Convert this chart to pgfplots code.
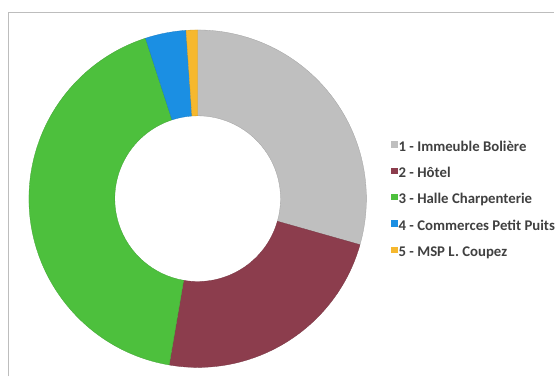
\documentclass[border=0pt]{standalone}
\usepackage{fontspec}
\setmainfont{Carlito}
\usepackage{pgfplots}
\usepackage{pgfplotstable}
\pgfplotsset{compat=1.18}
\definecolor{cGray}{HTML}{BFBFBF}
\definecolor{cMaroon}{HTML}{8C3D4D}
\definecolor{cGreen}{HTML}{4DC03D}
\definecolor{cBlue}{HTML}{1B8FE3}
\definecolor{cYellow}{HTML}{F6B82E}
\definecolor{cFrame}{HTML}{BDBDBD}
\pgfplotstableread{
id value
1 29.4
2 23.3
3 42.3
4 3.9
5 1.1
}\shares
\begin{document}
\begin{tikzpicture}
\pgfplotstablegetelem{0}{value}\of\shares \let\vA\pgfplotsretval
\pgfplotstablegetelem{1}{value}\of\shares \let\vB\pgfplotsretval
\pgfplotstablegetelem{2}{value}\of\shares \let\vC\pgfplotsretval
\pgfplotstablegetelem{3}{value}\of\shares \let\vD\pgfplotsretval
\pgfplotstablegetelem{4}{value}\of\shares \let\vE\pgfplotsretval
\pgfmathsetmacro{\tot}{\vA+\vB+\vC+\vD+\vE}
\pgfmathsetmacro{\aO}{90}
\pgfmathsetmacro{\aA}{\aO-360*\vA/\tot}
\pgfmathsetmacro{\aB}{\aA-360*\vB/\tot}
\pgfmathsetmacro{\aC}{\aB-360*\vC/\tot}
\pgfmathsetmacro{\aD}{\aC-360*\vD/\tot}
\pgfmathsetmacro{\aE}{\aD-360*\vE/\tot}
\def\slice#1#2#3{%
  \fill[#3, draw=#3!85!black, line width=0.3pt] (axis cs:198,178) ++(#1:169pt)
    arc[start angle=#1, end angle=#2, radius=169pt]
    -- ++(#2:-86pt)
    arc[start angle=#2, end angle=#1, radius=83pt] -- cycle;}
\begin{axis}[
  x=1pt, y=1pt,
  xmin=0, xmax=555, ymin=0, ymax=377,
  hide axis, clip=false,
  legend cell align=left,
  legend style={at={(axis cs:392,236.5)}, anchor=north west, draw=none, fill=none,
    inner sep=0pt, outer sep=0pt,
    font=\fontsize{14.8}{17}\selectfont\bfseries\color{black!75},
    nodes={inner sep=0pt, outer sep=0pt, text height=11pt, text depth=3pt},
    row sep=12.4pt, column sep=0.8pt},
  legend image code/.code={\fill[#1, draw=none] (0pt,-0.5pt) rectangle (6.5pt,6pt);},
]
\path (axis cs:0,0) rectangle (axis cs:555,377);
\draw[cFrame, line width=0.8pt] (axis cs:8,0) -- (axis cs:8,365) -- (axis cs:555,365);
\slice{\aO}{\aA}{cGray}
\slice{\aA}{\aB}{cMaroon}
\slice{\aB}{\aC}{cGreen}
\slice{\aC}{\aD}{cBlue}
\slice{\aD}{\aE}{cYellow}
\addlegendimage{fill=cGray}
\addlegendentry{1 - Immeuble Bolière}
\addlegendimage{fill=cMaroon}
\addlegendentry{2 - Hôtel}
\addlegendimage{fill=cGreen}
\addlegendentry{3 - Halle Charpenterie}
\addlegendimage{fill=cBlue}
\addlegendentry{4 - Commerces Petit Puits}
\addlegendimage{fill=cYellow}
\addlegendentry{5 - MSP L. Coupez}
\end{axis}
\end{tikzpicture}
\end{document}
